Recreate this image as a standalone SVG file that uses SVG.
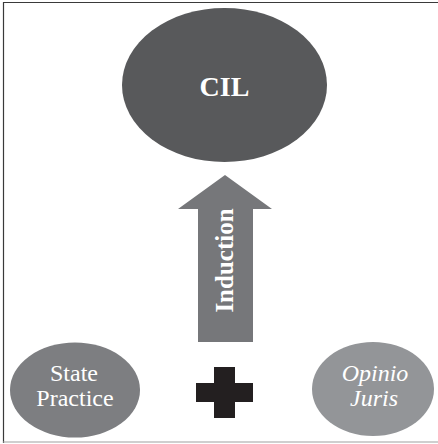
<svg xmlns="http://www.w3.org/2000/svg" width="438" height="444" viewBox="0 0 438 444">
  <style>
    .lbl { font-family: "Liberation Serif", "Times New Roman", serif; fill: #ffffff; text-anchor: middle; }
    .bold { font-weight: bold; }
    .it { font-style: italic; }
  </style>
  <rect x="0" y="0" width="438" height="444" fill="#ffffff"/>
  <g id="frame">
    <line x1="3" y1="2.5" x2="438" y2="2.5" stroke="#3a3a3a" stroke-width="1.2"/>
    <line x1="3.5" y1="2" x2="3.5" y2="443" stroke="#3a3a3a" stroke-width="1.2"/>
    <line x1="3" y1="442" x2="438" y2="442" stroke="#a0a0a0" stroke-width="1.2"/>
  </g>
  <g id="connectors">
    <g id="induction">
      <polygon points="225,175 272,209 253,209 253,342 198,342 198,209 178,209" fill="#76777a"/>
      <text class="lbl bold" font-size="25" transform="translate(233,260.5) rotate(-90)">Induction</text>
    </g>
  </g>
  <g id="cil">
    <ellipse cx="224.5" cy="85" rx="102.5" ry="77" fill="#58595b"/>
    <text class="lbl bold" x="224.5" y="96" font-size="28">CIL</text>
  </g>
  <g id="state-practice">
    <ellipse cx="75" cy="390" rx="65" ry="47.5" fill="#7d7e81"/>
    <text class="lbl" x="74" y="381" font-size="24">State</text>
    <text class="lbl" x="75" y="406" font-size="24">Practice</text>
  </g>
  <g id="plus">
    <rect x="214" y="367" width="21" height="51" fill="#231f20"/>
    <rect x="196" y="383" width="57" height="19" fill="#231f20"/>
  </g>
  <g id="opinio-juris">
    <ellipse cx="373" cy="389" rx="61" ry="47" fill="#939598"/>
    <text class="lbl it" x="375" y="381" font-size="24">Opinio</text>
    <text class="lbl it" x="374" y="406" font-size="24">Juris</text>
  </g>
</svg>
